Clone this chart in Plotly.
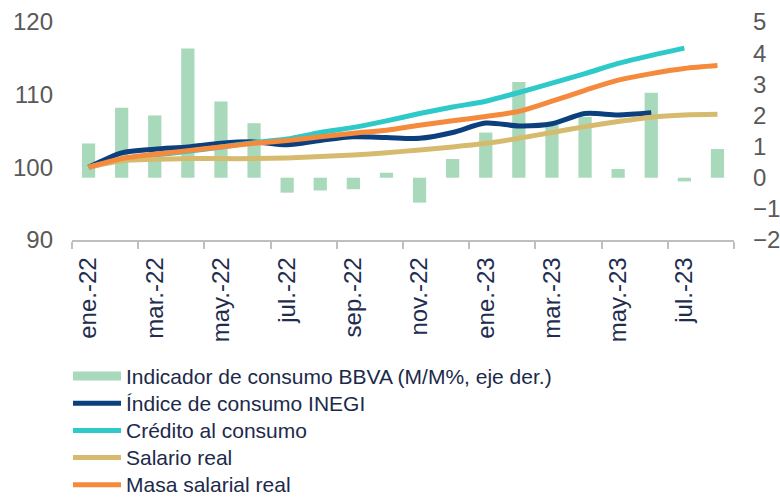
import numpy as np
import plotly.graph_objects as go

months = ["ene.-22", "feb.-22", "mar.-22", "abr.-22", "may.-22", "jun.-22",
          "jul.-22", "ago.-22", "sep.-22", "oct.-22", "nov.-22", "dic.-22",
          "ene.-23", "feb.-23", "mar.-23", "abr.-23", "may.-23", "jun.-23",
          "jul.-23", "ago.-23"]

bbva_mm = [1.1, 2.25, 2.0, 4.15, 2.45, 1.75, -0.48, -0.41, -0.37, 0.16,
           -0.80, 0.60, 1.45, 3.07, 1.7, 1.95, 0.28, 2.73, -0.12, 0.92]

inegi = [100, 102.0, 102.5, 102.8, 103.3, 103.5, 103.1, 103.7, 104.2, 104.1,
         104.0, 104.8, 106.1, 105.7, 106.0, 107.4, 107.2, 107.5, None, None]

credito = [100, 101.1, 101.7, 102.2, 102.8, 103.4, 103.9, 104.8, 105.5, 106.4,
           107.4, 108.3, 109.1, 110.3, 111.6, 112.9, 114.3, 115.4, 116.4, None]

salario = [100, 100.9, 101.1, 101.2, 101.2, 101.2, 101.3, 101.5, 101.7, 102.0,
           102.4, 102.8, 103.3, 104.0, 104.8, 105.6, 106.3, 106.9, 107.2, 107.3]

masa = [100, 101.2, 101.8, 102.3, 102.8, 103.3, 103.7, 104.2, 104.7, 105.1,
        105.8, 106.4, 107.0, 107.7, 109.1, 110.6, 112.0, 112.9, 113.6, 114.0]

left_ticks = [90, 100, 110, 120]
right_ticks = [-2, -1, 0, 1, 2, 3, 4, 5]

bar_name = "Indicador de consumo BBVA (M/M%, eje der.)"
line_names = ["Índice de consumo INEGI", "Crédito al consumo", "Salario real", "Masa salarial real"]
line_colors = ["#0b3f7e", "#2ec9c9", "#d6bb6e", "#f58a3c"]
bar_color = "#a9d9bb"

x = np.arange(len(months))
FONT = "Arial, Liberation Sans, sans-serif"

W, H = 780, 498
ML, MR, MT, MB = 72, 46, 22, 258
PW, PH = W - ML - MR, H - MT - MB


def px2paper(px, py):
    return (px - ML) / PW, (H - MB - py) / PH


fig = go.Figure()
fig.add_trace(go.Bar(x=x, y=bbva_mm, name=bar_name,
                     marker=dict(color=bar_color, line=dict(width=0)), yaxis="y"))

for name, vals, col in zip(line_names, [inegi, credito, salario, masa], line_colors):
    fig.add_trace(go.Scatter(x=x, y=vals, name=name, mode="lines", yaxis="y2",
                             line=dict(color=col, width=5, shape="spline", smoothing=0.8),
                             connectgaps=False))

# manual legend (wide symbols like the original)
shapes = []
annotations = []
row0, row_step = 376, 27.2
sym_x0, sym_x1, text_x = 73, 121, 124
for i, (name, col, kind) in enumerate([(bar_name, bar_color, "bar")] +
                                      [(n, c, "line") for n, c in zip(line_names, line_colors)]):
    yc = row0 + i * row_step
    x0, yy = px2paper(sym_x0, yc)
    x1, _ = px2paper(sym_x1, yc)
    if kind == "bar":
        _, ya = px2paper(0, yc - 4.5)
        _, yb = px2paper(0, yc + 4.5)
        shapes.append(dict(type="rect", xref="paper", yref="paper", x0=x0, x1=x1, y0=yb, y1=ya,
                           fillcolor=col, line=dict(width=0), layer="above"))
    else:
        shapes.append(dict(type="line", xref="paper", yref="paper", x0=x0, x1=x1, y0=yy, y1=yy,
                           line=dict(color=col, width=5), layer="above"))
    tx, ty = px2paper(text_x, yc)
    annotations.append(dict(text=name, xref="paper", yref="paper", x=tx, y=ty,
                            xanchor="left", yanchor="middle", showarrow=False,
                            font=dict(size=21, color="#1c2a4a", family=FONT)))

fig.update_layout(
    width=W, height=H,
    margin=dict(l=ML, r=MR, t=MT, b=MB, autoexpand=False),
    paper_bgcolor="white", plot_bgcolor="white",
    bargap=0.6,
    showlegend=False,
    font=dict(family=FONT),
    shapes=shapes,
    annotations=annotations,
    xaxis=dict(
        range=[-0.5, len(months) - 0.5], automargin=False,
        tickmode="array", tickvals=x[::2], ticktext=months[::2],
        tickangle=-90, ticks="", showgrid=False, zeroline=False,
        showline=True, linecolor="#bfbfbf", linewidth=1.5,
        tickfont=dict(size=24, color="#1f2d4f", family=FONT),
        ticklabelstandoff=6,
        minor=dict(tickmode="array", tickvals=list(np.arange(-0.5, len(months), 2)),
                   ticks="outside", ticklen=7, tickcolor="#bfbfbf", tickwidth=1.5,
                   showgrid=False),
    ),
    yaxis=dict(
        side="right", range=[-2, 5], tickmode="array", tickvals=right_ticks,
        showgrid=False, zeroline=False, showline=False, ticks="", automargin=False,
        tickfont=dict(size=24, color="#595959", family=FONT),
        ticklabelstandoff=18,
    ),
    yaxis2=dict(
        side="left", overlaying="y", range=[90, 120], tickmode="array", tickvals=left_ticks,
        showgrid=False, zeroline=False, showline=False, ticks="", automargin=False,
        tickfont=dict(size=24, color="#595959", family=FONT),
        ticklabelstandoff=18,
    ),
)

fig.write_html("out.html",
               config={"displayModeBar": False},
               post_script="document.body.style.margin='0';document.body.style.overflow='hidden';")
